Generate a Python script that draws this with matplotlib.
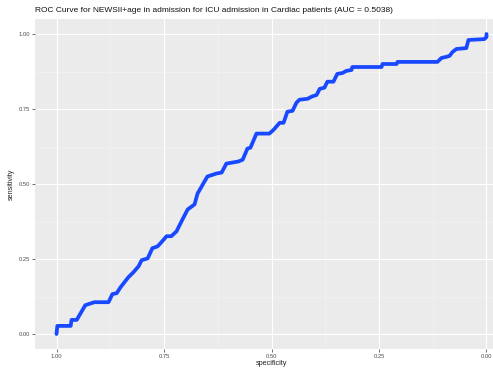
"""ROC curve for NEWSII+age on ICU admission, drawn in a ggplot-like style."""

import matplotlib

matplotlib.use("Agg")
import matplotlib.pyplot as plt
from matplotlib.ticker import FixedLocator

TITLE: str = (
    "ROC Curve for NEWSII+age in admission for ICU admission in Cardiac patients "
    "(AUC = 0.5038)"
)

# ROC vertices, specificity runs from 1 down to 0
specificity = [
    1.000, 0.998, 0.967, 0.965, 0.953, 0.933, 0.912, 0.879, 0.870, 0.860,
    0.851, 0.833, 0.821, 0.809, 0.802, 0.788, 0.777, 0.765, 0.756, 0.744,
    0.733, 0.721, 0.707, 0.695, 0.679, 0.672, 0.656, 0.649, 0.628, 0.616,
    0.605, 0.593, 0.577, 0.567, 0.556, 0.549, 0.535, 0.505, 0.495, 0.481,
    0.472, 0.463, 0.451, 0.442, 0.435, 0.416, 0.407, 0.395, 0.388, 0.377,
    0.370, 0.356, 0.347, 0.335, 0.326, 0.314, 0.312, 0.244, 0.242, 0.209,
    0.207, 0.114, 0.105, 0.093, 0.086, 0.079, 0.070, 0.047, 0.042, 0.005,
    0.000, 0.000,
]
sensitivity = [
    0.000, 0.027, 0.027, 0.047, 0.047, 0.096, 0.106, 0.106, 0.133, 0.136,
    0.156, 0.189, 0.206, 0.226, 0.246, 0.252, 0.286, 0.292, 0.306, 0.326,
    0.326, 0.342, 0.382, 0.415, 0.432, 0.468, 0.508, 0.525, 0.535, 0.538,
    0.568, 0.571, 0.575, 0.581, 0.618, 0.621, 0.668, 0.668, 0.681, 0.704,
    0.704, 0.741, 0.744, 0.771, 0.781, 0.784, 0.791, 0.797, 0.817, 0.821,
    0.841, 0.841, 0.867, 0.870, 0.877, 0.880, 0.890, 0.890, 0.900, 0.900,
    0.907, 0.907, 0.920, 0.924, 0.927, 0.940, 0.950, 0.953, 0.980, 0.983,
    0.990, 1.000,
]

major_ticks = [0.00, 0.25, 0.50, 0.75, 1.00]
minor_ticks = [0.125, 0.375, 0.625, 0.875]
tick_labels = ["0.00", "0.25", "0.50", "0.75", "1.00"]

PANEL_BG = "#EBEBEB"
LINE_COLOR = "#1848FF"
TEXT_COLOR = "#4D4D4D"

plt.rcParams["font.family"] = ["Liberation Sans", "DejaVu Sans"]

fig = plt.figure(figsize=(4.93, 3.71), dpi=100)
# the panel runs a little past the right edge of the canvas
ax = fig.add_axes([35 / 493, 22 / 371, 473 / 493, 330 / 371])
ax.set_facecolor(PANEL_BG)
for spine in ax.spines.values():
    spine.set_visible(False)

ax.set_xlim(1.05, -0.05)
ax.set_ylim(-0.05, 1.05)

ax.xaxis.set_major_locator(FixedLocator(major_ticks))
ax.yaxis.set_major_locator(FixedLocator(major_ticks))
ax.xaxis.set_minor_locator(FixedLocator(minor_ticks))
ax.yaxis.set_minor_locator(FixedLocator(minor_ticks))
ax.set_xticklabels(tick_labels)
ax.set_yticklabels(tick_labels)

ax.grid(which="major", color="white", linewidth=0.8)
ax.grid(which="minor", color="#F4F4F4", linewidth=0.45)
ax.set_axisbelow(True)
ax.tick_params(which="major", length=2, width=0.6, color="#555555",
               labelsize=4.2, labelcolor=TEXT_COLOR, pad=1.5)
ax.tick_params(which="minor", length=0)

ax.plot(specificity, sensitivity, color=LINE_COLOR, linewidth=2.7,
        solid_joinstyle="round", solid_capstyle="round")

ax.set_xlabel("specificity", fontsize=5.2, color="#222222", labelpad=1)
ax.set_ylabel("sensitivity", fontsize=5.2, color="#222222", labelpad=3)

fig.text(35 / 493, 1 - 11 / 371, TITLE, fontsize=6.0, color="#111111",
         ha="left", va="center")

fig.savefig("out.png", dpi=100)
